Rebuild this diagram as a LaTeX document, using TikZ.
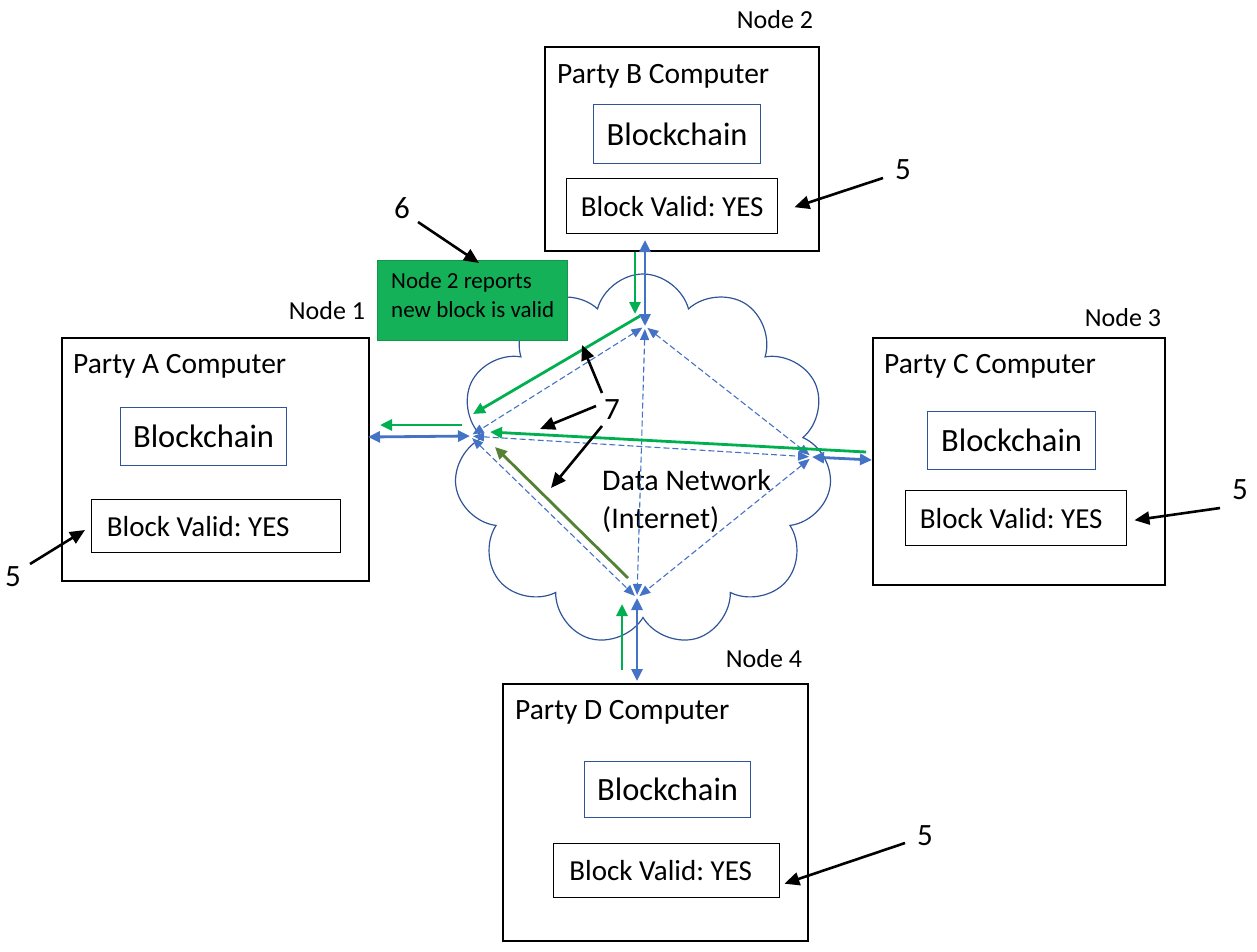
\documentclass[tikz,border=0pt]{standalone}
\usepackage{fontspec}
\setmainfont{Carlito}
\frenchspacing
\usetikzlibrary{arrows.meta,shapes.symbols}
\definecolor{lblue}{HTML}{4472C4}
\definecolor{cblue}{HTML}{2F5597}
\definecolor{lgreen}{HTML}{00B050}
\definecolor{olive}{HTML}{548235}
\definecolor{gbox}{HTML}{14B159}
\tikzset{
  party/.style={draw=black, line width=1.8pt, anchor=north west, inner sep=0pt},
  title/.style={anchor=west, font=\fontsize{29.5}{32}\selectfont, inner sep=0pt},
  bchain/.style={draw=cblue, line width=1.2pt, anchor=north west, inner sep=0pt, font=\fontsize{32.5}{36}\selectfont},
  bvalid/.style={draw=black, line width=1.4pt, anchor=north west, inner sep=0pt, font=\fontsize{29}{32}\selectfont},
  nlabel/.style={font=\fontsize{26}{28}\selectfont, inner sep=0pt},
  num/.style={font=\fontsize{31}{34}\selectfont, inner sep=0pt},
  blk/.style={-{Triangle[length=15pt,width=13pt]}, line width=2.6pt, black},
  netd/.style={lblue, dashed, dash pattern=on 6pt off 3pt, line width=1.1pt, {Triangle[length=11pt,width=9pt]}-{Triangle[length=11pt,width=9pt]}, shorten <=3pt, shorten >=3pt},
  bsolid/.style={lblue, line width=2.8pt, {Triangle[length=12pt,width=11pt]}-{Triangle[length=12pt,width=11pt]}},
  gsolid/.style={lgreen, line width=2.8pt, -{Triangle[length=12pt,width=11pt]}},
}
\begin{document}
\begin{tikzpicture}[x=1pt,y=-1pt]
\useasboundingbox (0,0) rectangle (1257,951);
% cloud
\node[cloud, cloud puffs=11, aspect=1, draw=cblue, line width=1.2pt, minimum width=378pt, minimum height=372pt, inner sep=0pt] (cloud) at (643,460) {};
\node[anchor=north west, inner sep=0pt, align=left, font=\fontsize{30}{38}\selectfont] (dn) at (602,469) {Data Network\\(Internet)};

% Party A
\node[party, minimum width=307pt, minimum height=243pt] (A) at (61,337) {};
\node[title] (At) at (73,366) {Party A Computer};
\node[bchain, minimum width=166pt, minimum height=58pt] (Ab) at (120,407) {Blockchain};
\node[bvalid, minimum width=249pt, minimum height=53pt] (Av) at (91,499) {\hspace*{-36pt}Block Valid: YES};
% Party B
\node[party, minimum width=274pt, minimum height=204pt] (B) at (544,46) {};
\node[title] (Bt) at (557,76) {Party B Computer};
\node[bchain, minimum width=167pt, minimum height=59pt] (Bb) at (593,104) {Blockchain};
\node[bvalid, minimum width=211pt, minimum height=55pt] (Bv) at (566,178) {Block Valid: YES};
% Party C
\node[party, minimum width=292pt, minimum height=247pt] (C) at (872,337) {};
\node[title] (Ct) at (884,366) {Party C Computer};
\node[bchain, minimum width=168pt, minimum height=58pt] (Cb) at (927,411) {Blockchain};
\node[bvalid, minimum width=221pt, minimum height=55pt] (Cv) at (905,490) {\hspace*{-10pt}Block Valid: YES};
% Party D
\node[party, minimum width=305pt, minimum height=257pt] (D) at (502,683) {};
\node[title] (Dt) at (515,712) {Party D Computer};
\node[bchain, minimum width=166pt, minimum height=56pt] (Db) at (584,761) {Blockchain};
\node[bvalid, minimum width=226pt, minimum height=54pt] (Dv) at (553,843) {\hspace*{-12pt}Block Valid: YES};

% node labels
\node[nlabel] (n1) at (327,311) {Node 1};
\node[nlabel] (n2) at (775,20) {Node 2};
\node[nlabel] (n3) at (1123,318) {Node 3};
\node[nlabel] (n4) at (764,659) {Node 4};

% green box
\node[fill=gbox, draw=gbox!85!black, line width=0.5pt, anchor=north west, minimum width=190pt, minimum height=80pt, inner sep=0pt] (gb) at (377,260) {};
\node[anchor=north west, align=left, inner sep=0pt, font=\fontsize{23}{29}\selectfont] (gbt) at (391,272) {Node 2 reports\\new block is valid};

% network points
\coordinate (T) at (645,326);
\coordinate (L) at (470,436);
\coordinate (R) at (812,457);
\coordinate (Bo) at (637,598);
\draw[netd] (T) -- (L);
\draw[netd] (T) -- (R);
\draw[netd] (T) -- (Bo);
\draw[netd] (L) -- (R);
\draw[netd] (L) -- (Bo);
\draw[netd] (R) -- (Bo);

% blue solid
\coordinate (Tb) at (645,240);
\coordinate (Lb) at (368,437);
\coordinate (Rb) at (872,460);
\coordinate (Bb2) at (637,681);
\draw[bsolid] (T) -- (Tb);
\draw[bsolid] (L) -- (Lb);
\draw[bsolid] (R) -- (Rb);
\draw[bsolid] (Bo) -- (Bb2);

% green
\coordinate (g1a) at (635,252);
\coordinate (g1b) at (635,314);
\coordinate (g2a) at (640,316);
\coordinate (g2b) at (473,414);
\coordinate (g3a) at (462,425);
\coordinate (g3b) at (380,425);
\coordinate (g4a) at (866,452);
\coordinate (g4b) at (490,432);
\coordinate (g5a) at (628,578);
\coordinate (g5b) at (495,447);
\coordinate (g6a) at (622,670);
\coordinate (g6b) at (622,604);
\draw[gsolid] (g1a) -- (g1b);
\draw[gsolid] (g2a) -- (g2b);
\draw[gsolid] (g3a) -- (g3b);
\draw[gsolid] (g4a) -- (g4b);
\draw[gsolid, olive] (g5a) -- (g5b);
\draw[gsolid] (g6a) -- (g6b);

% numbers and black arrows
\node[num] (six) at (402,208) {6};
\coordinate (sixe) at (479,263);
\draw[blk] (418,222) -- (sixe);
\node[num] (seven) at (612,410) {7};
\coordinate (s1) at (582,345);
\coordinate (s2) at (540,429);
\coordinate (s3) at (551,488);
\draw[blk] (602,393) -- (s1);
\draw[blk] (596,406) -- (s2);
\draw[blk] (602,426) -- (s3);
\node[num] (fB) at (903,170) {5};
\draw[blk] (883,178) -- ([xshift=16pt,yshift=-1pt]Bv.east);
\node[num] (fC) at (1240,490) {5};
\draw[blk] (1220,508) -- ([xshift=7pt,yshift=-2pt]Cv.east);
\node[num] (fA) at (13,577) {5};
\draw[blk] (30,564) -- (85,530);
\node[num] (fD) at (925,836) {5};
\draw[blk] (905,843) -- ([xshift=4pt,yshift=-13pt]Dv.east);
\end{tikzpicture}
\end{document}
